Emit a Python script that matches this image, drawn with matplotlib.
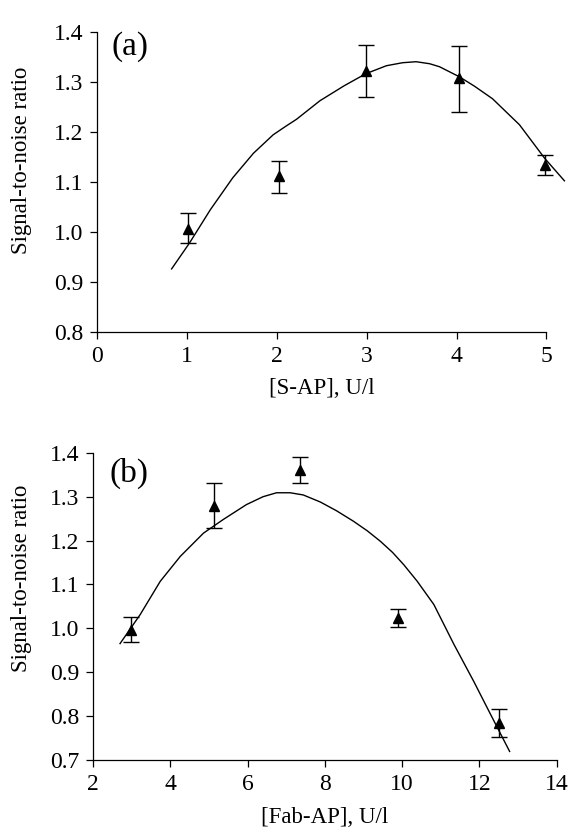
import matplotlib

matplotlib.use("Agg")

import matplotlib.pyplot as plt


# ==================================================
# DATA
# ==================================================

# panel (a): S-AP
sap_x = [1.01, 2.02, 2.99, 4.03, 4.98]
sap_y = [1.006, 1.111, 1.322, 1.307, 1.134]
sap_lo = [0.977, 1.078, 1.270, 1.240, 1.114]
sap_hi = [1.037, 1.141, 1.373, 1.371, 1.154]

sap_fit_x = [0.83, 1.03, 1.26, 1.51, 1.74, 1.96, 2.10, 2.22, 2.48, 2.75, 2.99,
             3.22, 3.40, 3.55, 3.70, 3.81, 4.03, 4.20, 4.40, 4.70, 4.98, 5.20]
sap_fit_y = [0.926, 0.978, 1.044, 1.108, 1.157, 1.194, 1.211, 1.225, 1.262, 1.292,
             1.316, 1.332, 1.338, 1.340, 1.336, 1.330, 1.310, 1.291, 1.266, 1.214,
             1.147, 1.102]

# panel (b): Fab-AP
fab_x = [2.98, 5.13, 7.35, 9.88, 12.51]
fab_y = [0.996, 1.278, 1.360, 1.024, 0.784]
fab_lo = [0.968, 1.229, 1.331, 1.003, 0.751]
fab_hi = [1.025, 1.331, 1.391, 1.045, 0.816]

fab_fit_x = [2.70, 3.22, 3.74, 4.26, 4.86, 5.37, 5.97, 6.40, 6.75, 7.10, 7.44,
             7.88, 8.30, 8.74, 9.10, 9.44, 9.75, 10.04, 10.39, 10.82, 11.34,
             11.85, 12.29, 12.78]
fab_fit_y = [0.965, 1.031, 1.107, 1.164, 1.217, 1.248, 1.282, 1.300, 1.309, 1.309,
             1.304, 1.288, 1.268, 1.244, 1.222, 1.198, 1.173, 1.145, 1.107, 1.054,
             0.963, 0.879, 0.803, 0.719]

sap_xticks = [0, 1, 2, 3, 4, 5]
sap_yticks = [0.8, 0.9, 1.0, 1.1, 1.2, 1.3, 1.4]
fab_xticks = [2, 4, 6, 8, 10, 12, 14]
fab_yticks = [0.7, 0.8, 0.9, 1.0, 1.1, 1.2, 1.3, 1.4]


plt.rcParams["font.family"] = ["Liberation Serif", "DejaVu Serif"]


# ==================================================
# HELPERS
# ==================================================

def _style_axes(ax):

    ax.spines["top"].set_visible(False)
    ax.spines["right"].set_visible(False)

    for side in ("left", "bottom"):
        ax.spines[side].set_linewidth(0.9)

    ax.tick_params(
        axis="both",
        direction="out",
        length=5,
        width=0.9,
        pad=5,
        labelsize=17,
        colors="black"
    )


def _draw_panel(ax, x, y, lo, hi, fit_x, fit_y):

    yerr = [
        [v - l for v, l in zip(y, lo)],
        [h - v for v, h in zip(y, hi)]
    ]

    ax.errorbar(
        x,
        y,
        yerr=yerr,
        fmt="^",
        color="black",
        markersize=7,
        elinewidth=1.0,
        capsize=6,
        capthick=1.0,
        clip_on=False,
        zorder=3
    )

    ax.plot(
        fit_x,
        fit_y,
        color="black",
        linewidth=1.0,
        clip_on=False,
        zorder=2
    )


# ==================================================
# FIGURE
# ==================================================

fig = plt.figure(figsize=(5.74, 8.34), dpi=100)

ax_a = fig.add_axes([0.169, 0.602, 0.783, 0.360])
ax_b = fig.add_axes([0.162, 0.089, 0.808, 0.368])


_draw_panel(ax_a, sap_x, sap_y, sap_lo, sap_hi, sap_fit_x, sap_fit_y)

ax_a.set_xlim(0, 5)
ax_a.set_ylim(0.8, 1.4)
ax_a.set_xticks(sap_xticks)
ax_a.set_yticks(sap_yticks)
ax_a.set_yticklabels([f"{v:.1f}" for v in sap_yticks])
ax_a.set_xlabel("[S-AP], U/l", fontsize=16.5)
ax_a.set_ylabel("Signal-to-noise ratio", fontsize=16.5)
ax_a.xaxis.set_label_coords(0.5, -0.155)
ax_a.yaxis.set_label_coords(-0.145, 0.57)
ax_a.text(0.16, 1.37, "(a)", fontsize=24, ha="left", va="center")
_style_axes(ax_a)


_draw_panel(ax_b, fab_x, fab_y, fab_lo, fab_hi, fab_fit_x, fab_fit_y)

ax_b.set_xlim(2, 14)
ax_b.set_ylim(0.7, 1.4)
ax_b.set_xticks(fab_xticks)
ax_b.set_yticks(fab_yticks)
ax_b.set_yticklabels([f"{v:.1f}" for v in fab_yticks])
ax_b.set_xlabel("[Fab-AP], U/l", fontsize=16.5)
ax_b.set_ylabel("Signal-to-noise ratio", fontsize=16.5)
ax_b.xaxis.set_label_coords(0.5, -0.153)
ax_b.yaxis.set_label_coords(-0.132, 0.59)
ax_b.text(2.44, 1.354, "(b)", fontsize=24, ha="left", va="center")
_style_axes(ax_b)


fig.savefig("out.png", dpi=100)

plt.close(fig)
